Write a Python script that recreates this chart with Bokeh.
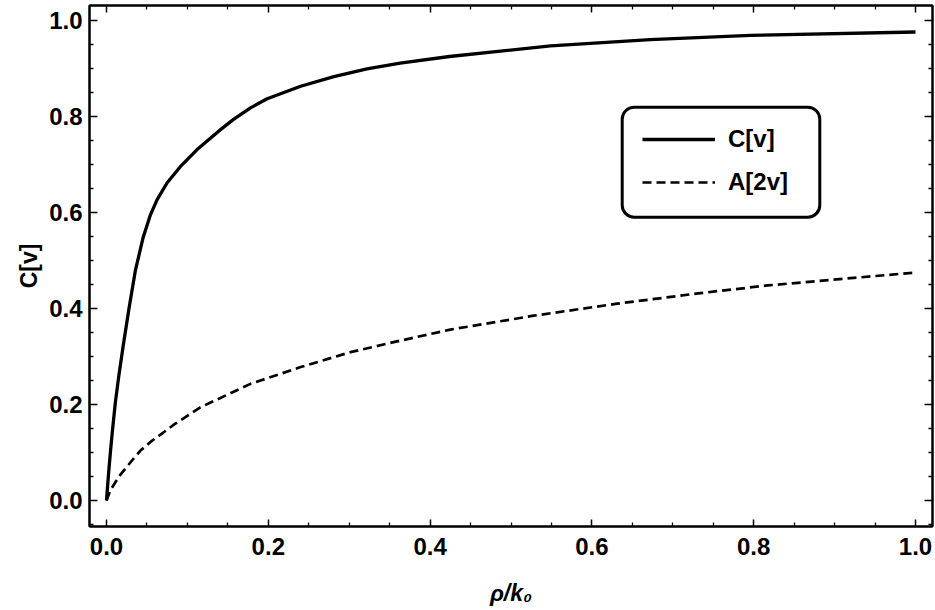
from bokeh.plotting import figure
from bokeh.models import (Range1d, FixedTicker, LinearAxis, PrintfTickFormatter,
                          CustomJSTickFormatter, Legend, LegendItem, BoxAnnotation)
from bokeh.embed import file_html
from bokeh.resources import INLINE

# ---------------- data ----------------
rho_c = [0.0, 0.0025, 0.005, 0.0075, 0.011, 0.015, 0.0206, 0.028, 0.0358, 0.0453,
         0.054, 0.0626, 0.075, 0.0915, 0.112, 0.139, 0.157, 0.178, 0.1986, 0.24,
         0.281, 0.322, 0.363, 0.424, 0.549, 0.672, 0.796, 1.0]
c_v = [0.0, 0.055, 0.104, 0.148, 0.205, 0.257, 0.322, 0.402, 0.48, 0.548,
       0.594, 0.627, 0.662, 0.696, 0.731, 0.77, 0.794, 0.818, 0.837, 0.863,
       0.883, 0.899, 0.911, 0.925, 0.947, 0.96, 0.969, 0.976]

rho_a = [0.0, 0.005, 0.011, 0.0173, 0.0338, 0.042, 0.0544, 0.085, 0.116, 0.178,
         0.24, 0.3016, 0.363, 0.425, 0.528, 0.631, 0.734, 0.817, 1.0]
a_2v = [0.0, 0.022, 0.038, 0.054, 0.088, 0.104, 0.122, 0.16, 0.194, 0.243,
        0.278, 0.309, 0.333, 0.356, 0.385, 0.41, 0.432, 0.448, 0.475]

x_ticks = [0.0, 0.2, 0.4, 0.6, 0.8, 1.0]
x_minor = [0.05, 0.1, 0.15, 0.25, 0.3, 0.35, 0.45, 0.5, 0.55, 0.65, 0.7, 0.75,
           0.85, 0.9, 0.95]
y_ticks = [0.0, 0.2, 0.4, 0.6, 0.8, 1.0]
y_minor = [-0.05, 0.05, 0.1, 0.15, 0.25, 0.3, 0.35, 0.45, 0.5, 0.55, 0.65, 0.7,
           0.75, 0.85, 0.9, 0.95]

series_labels = ["C[v]", "A[2v]"]
x_title = "\u03c1/k\u2080"
y_title = "C[v]"

# ---------------- layout ----------------
W, H = 935, 610
FL, FR, FT, FB = 89, 932, 5, 526          # frame edges in page pixels
X0, SX = 106.0, 809.0                     # page x of rho=0, px per unit
Y0, SY = 500.0, 480.0                     # page y of C=0, px per unit


def dx(X):
    return (X - X0) / SX


def dy(Y):
    return (Y0 - Y) / SY


FONT = "Liberation Sans"

p = figure(width=W, height=H, output_backend="svg", toolbar_location=None,
           x_range=Range1d(dx(FL), dx(FR)), y_range=Range1d(dy(FB), dy(FT)),
           x_axis_type=None, y_axis_type=None,
           min_border_left=FL, min_border_right=W - FR,
           min_border_top=FT, min_border_bottom=H - FB)
p.background_fill_color = "white"
p.border_fill_color = "white"
p.outline_line_color = "black"
p.outline_line_width = 2
p.xgrid.visible = False
p.ygrid.visible = False


def style_axis(ax, ticks, minor, labels, major_len, standoff):
    ax.ticker = FixedTicker(ticks=ticks, minor_ticks=minor)
    ax.axis_line_color = "black"
    ax.axis_line_width = 2
    ax.major_tick_in = major_len
    ax.major_tick_out = 0
    ax.minor_tick_in = 4
    ax.minor_tick_out = 0
    ax.major_tick_line_width = 1.5
    ax.minor_tick_line_width = 1.3
    ax.major_tick_line_color = "black"
    ax.minor_tick_line_color = "black"
    if labels:
        ax.formatter = PrintfTickFormatter(format="%.1f")
        ax.major_label_text_font = FONT
        ax.major_label_text_font_style = "bold"
        ax.major_label_text_font_size = "24px"
        ax.major_label_text_color = "black"
        ax.major_label_standoff = standoff
        ax.axis_label_text_font = FONT
        ax.axis_label_text_font_size = "23px"
        ax.axis_label_text_color = "black"
    else:
        ax.axis_label = None
        ax.formatter = CustomJSTickFormatter(code="return ''")
        ax.major_label_text_font_size = "0px"
        ax.major_label_standoff = 0
        ax.axis_label_standoff = 0


bx = LinearAxis(); style_axis(bx, x_ticks, x_minor, True, 7, 11)
tx = LinearAxis(); style_axis(tx, x_ticks, x_minor, False, 7, 0)
ly = LinearAxis(); style_axis(ly, y_ticks, y_minor, True, 8, 7)
ry = LinearAxis(); style_axis(ry, y_ticks, y_minor, False, 8, 0)

bx.axis_label = x_title
bx.axis_label_text_font_style = "bold italic"
bx.axis_label_standoff = 22
ly.axis_label = y_title
ly.axis_label_text_font_style = "bold"
ly.axis_label_standoff = 4

p.add_layout(bx, "below")
p.add_layout(tx, "above")
p.add_layout(ly, "left")
p.add_layout(ry, "right")

r1 = p.line(rho_c, c_v, line_color="black", line_width=3.3, line_join="round")
r2 = p.line(rho_a, a_2v, line_color="black", line_width=2.7, line_dash="9 5")

# rounded legend frame
box = BoxAnnotation(left=dx(621.7), right=dx(819.3), top=dy(106.7), bottom=dy(216.7),
                    fill_alpha=0, line_color="black", line_alpha=1.0, line_width=3,
                    border_radius=12)
p.add_layout(box)

legend = Legend(items=[LegendItem(label=series_labels[0], renderers=[r1]),
                       LegendItem(label=series_labels[1], renderers=[r2])],
                location=(553, 329), glyph_width=73, glyph_height=30, label_height=30,
                label_standoff=13, spacing=13, padding=0, margin=0,
                border_line_color=None, background_fill_alpha=0,
                label_text_font=FONT, label_text_font_style="bold",
                label_text_font_size="24px", label_text_color="black")
p.add_layout(legend)

open("out.html", "w").write(file_html(p, INLINE))
